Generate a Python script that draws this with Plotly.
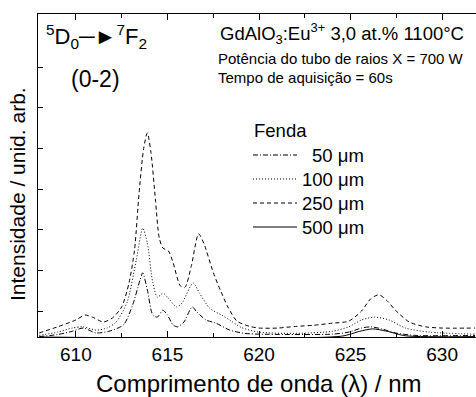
import plotly.graph_objects as go

# ---- data (wavelength in nm, intensity in arbitrary units) ----
wl_250 = [608, 609, 610, 610.5, 610.9, 611.5, 612.0, 612.5, 612.9, 613.2, 613.45, 613.7, 613.9,
          614.1, 614.35, 614.55, 614.75, 615.05, 615.3, 615.7, 615.95, 616.3, 616.7, 617.0, 617.5,
          617.9, 618.3, 618.8, 619.5, 620, 621, 622, 623, 624, 624.9, 625.6, 626.1, 626.55,
          627.0, 627.45, 628.2, 629.1, 630, 631.8]
int_250 = [-0.54, -0.39, -0.22, -0.10, -0.15, -0.27, -0.17, 0.10, 0.69, 1.5, 2.9, 4.0, 4.38,
           3.9, 2.7, 1.8, 1.55, 1.48, 1.2, 0.62, 0.58, 1.1, 1.9, 1.65, 0.95,
           0.5, 0.1, -0.25, -0.38, -0.42, -0.42, -0.38, -0.35, -0.3, -0.25, 0.0, 0.3, 0.4,
           0.25, 0.02, -0.27, -0.39, -0.42, -0.42]

wl_100 = [608, 609, 609.8, 610.4, 611.1, 611.7, 612.2, 612.8, 613.3, 613.65, 613.9, 614.2, 614.45,
          614.75, 615.0, 615.5, 615.8, 616.4, 616.75, 617.3, 617.95, 618.4, 619.0, 620, 622, 624,
          624.9, 625.6, 626.3, 627.1, 628.0, 629.3, 631.8]
int_100 = [-0.6, -0.52, -0.42, -0.39, -0.47, -0.42, -0.27, 0.22, 1.26, 2.04, 1.67, 0.69, 0.34,
           0.44, 0.34, 0.10, 0.20, 0.69, 0.44, 0.07, -0.10, -0.22, -0.40, -0.52, -0.55, -0.5,
           -0.39, -0.22, -0.15, -0.22, -0.42, -0.52, -0.57]

wl_50 = [608, 609, 609.8, 610.4, 611.1, 611.8, 612.6, 613.1, 613.5, 613.65, 613.9, 614.2, 614.45,
         614.75, 615.0, 615.3, 615.55, 615.9, 616.35, 616.6, 617.1, 617.65, 618.4, 619.2, 620, 624,
         624.9, 625.6, 626.1, 626.7, 627.45, 628.5, 631.8]
int_50 = [-0.63, -0.58, -0.5, -0.42, -0.54, -0.5, -0.34, 0.15, 0.76, 0.94, 0.52, -0.10, -0.15,
          0.02, -0.10, -0.34, -0.39, -0.27, 0.10, -0.02, -0.22, -0.30, -0.47, -0.55, -0.57, -0.57,
          -0.52, -0.42, -0.39, -0.44, -0.54, -0.6, -0.6]

wl_500 = [608, 624.5, 625.5, 626.2, 627.0, 628.0, 631.8]
int_500 = [-0.64, -0.62, -0.50, -0.44, -0.50, -0.61, -0.63]

legend_names = ["50 \u03bcm", "100 \u03bcm", "250 \u03bcm", "500 \u03bcm"]
legend_dashes = ["5px,2px,1px,2px", "1px,2px", "4px,3px", "solid"]

x_ticks = [610, 615, 620, 625, 630]
y_ticks = [0, 1, 2, 3, 4, 5, 6]

FONT = "Liberation Sans, Arial, sans-serif"
W, H = 476, 397
L, T, B = 38, 14, 60
PW, PH = W - L, H - T - B


def px(x):
    return (x - L) / PW


def py(y):
    return (H - B - y) / PH


fig = go.Figure()
series = [(wl_50, int_50), (wl_100, int_100), (wl_250, int_250), (wl_500, int_500)]
for (wx, wy), name, dash in zip(series, legend_names, legend_dashes):
    fig.add_trace(go.Scatter(x=wx, y=wy, mode="lines", name=name, showlegend=False,
                             line=dict(color="black", width=1, dash=dash, shape="spline",
                                       smoothing=0.7)))

ann = []
shapes = []
# legend drawn manually
ann.append(dict(x=px(252), y=py(130), text="Fenda", showarrow=False, xanchor="left",
                yanchor="middle", font=dict(size=18.5)))
rows = [155, 179, 203, 227]
for r, name, dash in zip(rows, legend_names, legend_dashes):
    shapes.append(dict(type="line", xref="paper", yref="paper", x0=px(253), x1=px(297),
                       y0=py(r), y1=py(r), line=dict(color="black", width=1, dash=dash)))
    ann.append(dict(x=px(366), y=py(r), text=name, showarrow=False, xanchor="right",
                    yanchor="middle", font=dict(size=18.5)))

ann.append(dict(x=px(44), y=py(36), text="<sup>5</sup>D<sub>0</sub>\u2500\u25ba<sup>7</sup>F<sub>2</sub>",
                showarrow=False, xanchor="left", yanchor="middle", font=dict(size=22)))
ann.append(dict(x=px(95), y=py(79), text="(0-2)", showarrow=False, xanchor="center",
                yanchor="middle", font=dict(size=23)))
ann.append(dict(x=px(466), y=py(33), text="GdAlO<sub>3</sub>:Eu<sup>3+</sup> 3,0 at.% 1100\u00b0C",
                showarrow=False, xanchor="right", yanchor="middle", font=dict(size=18.5)))
ann.append(dict(x=px(216), y=py(58), text="Pot\u00eancia do tubo de raios X = 700 W",
                showarrow=False, xanchor="left", yanchor="middle", font=dict(size=15)))
ann.append(dict(x=px(216), y=py(78), text="Tempo de aquisi\u00e7\u00e3o = 60s",
                showarrow=False, xanchor="left", yanchor="middle", font=dict(size=15)))
# axis titles
ann.append(dict(x=px(17), y=py(194), text="Intensidade / unid. arb.", textangle=-90,
                showarrow=False, xanchor="center", yanchor="middle", font=dict(size=21)))
ann.append(dict(x=px(258), y=py(383), text="Comprimento de onda (\u03bb) / nm",
                showarrow=False, xanchor="center", yanchor="middle", font=dict(size=24)))
for a in ann:
    a["xref"] = "paper"
    a["yref"] = "paper"

fig.update_layout(
    width=W, height=H,
    margin=dict(l=L, r=0, t=T, b=B),
    paper_bgcolor="white", plot_bgcolor="white",
    font=dict(family=FONT, color="black"),
    annotations=ann, shapes=shapes,
    xaxis=dict(range=[607.93, 631.85], tickvals=x_ticks, ticks="inside", ticklen=6,
               tickwidth=1, tickcolor="black", showline=True, linecolor="black", linewidth=1,
               mirror="ticks", showgrid=False, zeroline=False, tickfont=dict(size=19),
               minor=dict(dtick=2.5, tick0=607.5, ticks="inside", ticklen=4, tickcolor="black")),
    yaxis=dict(range=[-0.64, 7.31], tickvals=y_ticks, ticks="inside", ticklen=5,
               tickcolor="black", showline=True, linecolor="black", linewidth=1,
               showticklabels=False, showgrid=False, zeroline=False),
)

fig.write_html("out.html", config={"displayModeBar": False},
               post_script="document.body.style.margin='0';")
